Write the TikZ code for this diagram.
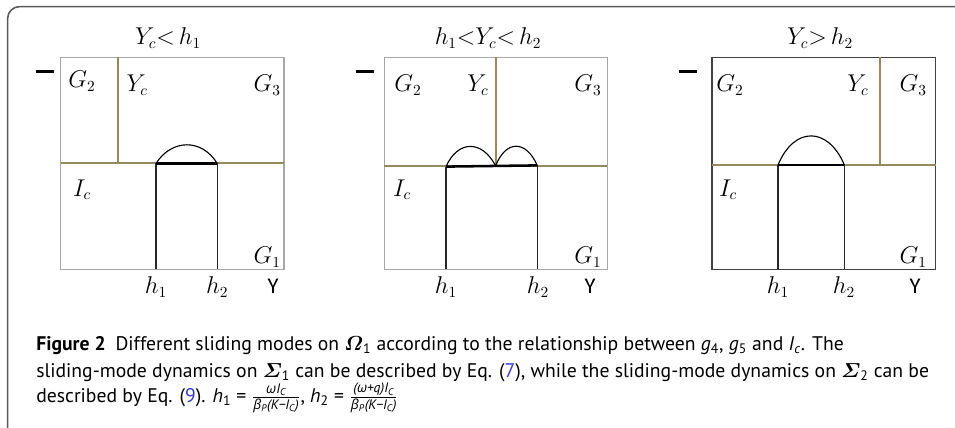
\documentclass[tikz,border=0pt]{standalone}
\usepackage{amsmath,amssymb}
\usepackage{fontspec}
\setsansfont{Carlito}
\newfontfamily\capfont{PT Sans}
\newfontfamily\capgreek{Open Sans}
\definecolor{boxgray}{HTML}{A6A6A6}
\definecolor{boxdark}{HTML}{404040}
\definecolor{tanline}{HTML}{948A5A}
\definecolor{framegray}{HTML}{5A5A5A}
\definecolor{linkblue}{HTML}{3333EE}
\newcommand{\gk}[1]{{\capgreek\itshape #1}}

\begin{document}
\begin{tikzpicture}[
  lbl/.style={font=\fontsize{16}{18}\selectfont, inner sep=0pt},
  capline/.style={font=\capfont\fontsize{14}{16}\selectfont, anchor=base west, inner sep=0pt},
  tanrule/.style={draw=tanline, line width=1.3pt},
  hline/.style={draw=black!85, line width=0.9pt},
  slide/.style={draw=black, line width=1.8pt},
  hump/.style={draw=black, line width=0.8pt}]

\useasboundingbox (0,0) rectangle (23.875,10.675);

% outer frame (cut off at right and bottom)
\draw[framegray, line width=1.1pt, rounded corners=0.3cm]
  (0.19,-1) -- (0.19,10.51) -- (25,10.51);

% =====================================================
% Panel 1: Y_c < h_1
% =====================================================
\node[lbl] (p1title) at (4.2,9.73) {$Y_c{<}\,h_1$};
\node[lbl] (p1dash) at (1.12,8.88) {\rule{0.45cm}{2.2pt}};

\coordinate (p1sw) at (1.52,3.94);
\coordinate (p1ne) at (7.10,9.24);
\coordinate (p1l) at (1.52,6.59);
\coordinate (p1r) at (7.10,6.59);
\coordinate (p1yt) at (2.94,9.24);
\coordinate (p1yb) at (2.94,6.59);
\coordinate (p1a) at (3.90,6.59);
\coordinate (p1b) at (5.43,6.59);
\coordinate (p1as) at (3.90,3.94);
\coordinate (p1bs) at (5.43,3.94);

\draw[boxgray, line width=0.9pt] (p1sw) rectangle (p1ne);
\draw[tanrule] (p1l) -- (p1r);
\draw[tanrule] (p1yt) -- (p1yb);
\draw[hline] (p1a) -- (p1as);
\draw[hline] (p1b) -- (p1bs);
\draw[slide] (p1a) -- (p1b);
\draw[hump] (p1a) .. controls (4.30,7.21) and (5.05,7.21) .. (p1b);

\node[lbl] (p1gtwo) at (2.05,8.65) {$G_2$};
\node[lbl] (p1yc) at (3.43,8.55) {$Y_c$};
\node[lbl] (p1gthree) at (6.68,8.55) {$G_3$};
\node[lbl] (p1ic) at (2.05,5.93) {$I_c$};
\node[lbl] (p1gone) at (6.68,4.25) {$G_1$};
\node[lbl] (p1hone) at (3.90,3.50) {$h_1$};
\node[lbl] (p1htwo) at (5.43,3.50) {$h_2$};
\node[lbl] (p1y) at (6.83,3.52) {\sffamily Y};

% =====================================================
% Panel 2: h_1 < Y_c < h_2
% =====================================================
\node[lbl] (p2title) at (12.2,9.73) {$h_1{<}Y_c{<}\,h_2$};
\node[lbl] (p2dash) at (9.12,8.88) {\rule{0.45cm}{2.2pt}};

\coordinate (p2sw) at (9.61,3.94);
\coordinate (p2ne) at (15.18,9.24);
\coordinate (p2l) at (9.61,6.53);
\coordinate (p2r) at (15.18,6.53);
\coordinate (p2yt) at (12.39,9.24);
\coordinate (p2yb) at (12.39,6.53);
\coordinate (p2a) at (11.15,6.51);
\coordinate (p2b) at (13.43,6.54);
\coordinate (p2as) at (11.15,3.94);
\coordinate (p2bs) at (13.43,3.94);

\draw[boxgray, line width=0.9pt] (p2sw) rectangle (p2ne);
\draw[tanrule] (p2l) -- (p2r);
\draw[tanrule] (p2yt) -- (p2yb);
\draw[hline] (p2a) -- (p2as);
\draw[hline] (p2b) -- (p2bs);
\draw[slide] (p2a) -- (p2b);
\draw[hump] (p2a) .. controls (11.45,7.18) and (12.05,7.18) .. (p2yb);
\draw[hump] (p2yb) .. controls (12.65,7.18) and (13.15,7.18) .. (p2b);

\node[lbl] (p2gtwo) at (10.20,8.55) {$G_2$};
\node[lbl] (p2yc) at (11.95,8.55) {$Y_c$};
\node[lbl] (p2gthree) at (14.70,8.55) {$G_3$};
\node[lbl] (p2ic) at (10.05,5.93) {$I_c$};
\node[lbl] (p2gone) at (14.70,4.25) {$G_1$};
\node[lbl] (p2hone) at (11.15,3.50) {$h_1$};
\node[lbl] (p2htwo) at (13.45,3.50) {$h_2$};
\node[lbl] (p2y) at (14.75,3.52) {\sffamily Y};

% =====================================================
% Panel 3: Y_c > h_2
% =====================================================
\node[lbl] (p3title) at (20.5,9.73) {$Y_c{>}\,h_2$};
\node[lbl] (p3dash) at (17.20,8.88) {\rule{0.45cm}{2.2pt}};

\coordinate (p3sw) at (17.80,3.94);
\coordinate (p3ne) at (23.39,9.24);
\coordinate (p3l) at (17.80,6.55);
\coordinate (p3r) at (23.39,6.55);
\coordinate (p3yt) at (22.00,9.24);
\coordinate (p3yb) at (22.00,6.55);
\coordinate (p3a) at (19.45,6.55);
\coordinate (p3b) at (21.11,6.55);
\coordinate (p3as) at (19.45,3.94);
\coordinate (p3bs) at (21.11,3.94);

\draw[boxdark, line width=0.9pt] (p3sw) rectangle (p3ne);
\draw[tanrule] (p3l) -- (p3r);
\draw[tanrule] (p3yt) -- (p3yb);
\draw[hline] (p3a) -- (p3as);
\draw[hline] (p3b) -- (p3bs);
\draw[slide] (p3a) -- (p3b);
\draw[hump] (p3a) .. controls (19.85,7.52) and (20.70,7.52) .. (p3b);

\node[lbl] (p3gtwo) at (18.25,8.55) {$G_2$};
\node[lbl] (p3yc) at (21.45,8.55) {$Y_c$};
\node[lbl] (p3gthree) at (22.83,8.55) {$G_3$};
\node[lbl] (p3ic) at (18.20,5.93) {$I_c$};
\node[lbl] (p3gone) at (22.83,4.25) {$G_1$};
\node[lbl] (p3hone) at (19.45,3.50) {$h_1$};
\node[lbl] (p3htwo) at (21.10,3.50) {$h_2$};
\node[lbl] (p3y) at (22.88,3.52) {\sffamily Y};

% =====================================================
% Caption
% =====================================================
\node[capline] (capa) at (0.9,1.925) {\textbf{Figure 2}\enspace Different sliding modes on $\boldsymbol{\varOmega}$\textsubscript{1} according to the relationship between \textit{g}\textsubscript{4}, \textit{g}\textsubscript{5} and \textit{I}\textsubscript{\textit{c}}. The};
\node[capline] (capb) at (0.9,1.25) {sliding-mode dynamics on $\boldsymbol{\varSigma}$\textsubscript{1} can be described by Eq. (\textcolor{linkblue}{7}), while the sliding-mode dynamics on $\boldsymbol{\varSigma}$\textsubscript{2} can be};
\node[capline] (capc) at (0.9,0.62) {described by Eq. (\textcolor{linkblue}{9}). \textit{h}\textsubscript{1} = $\frac{\text{\itshape\gk{ω}I\textsubscript{C}}}{\text{\itshape\gk{β}\textsubscript{P}(K−I\textsubscript{C})}}$, \textit{h}\textsubscript{2} = $\frac{\text{\itshape (\gk{ω}+q)I\textsubscript{C}}}{\text{\itshape\gk{β}\textsubscript{P}(K−I\textsubscript{C})}}$};

\end{tikzpicture}
\end{document}
